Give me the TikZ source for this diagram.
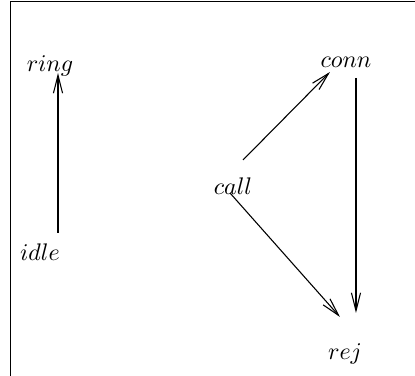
\documentclass[tikz,border=0pt]{standalone}
\usetikzlibrary{arrows.meta}
\begin{document}
\begin{tikzpicture}[x=0.4167pt,y=-0.4167pt,
  state/.style={inner sep=0pt,anchor=base},
  arr/.style={-{Straight Barb[length=7.5pt,width=3.8pt]},line width=0.45pt}]
\useasboundingbox (0,0) rectangle (415,376);
\draw[line width=0.5pt] (10.5,376) -- (10.5,1.5) -- (415,1.5);
\node[state] (ring) at (50,72) {$ring$};
\node[state] (idle) at (40,261) {$idle$};
\node[state] (conn) at (346,68) {$conn$};
\node[state] (call) at (233,195) {$call$};
\node[state] (rej)  at (345,360) {$rej$};
\draw[arr] ([shift={(18,-28)}]idle.base) -- ([shift={(8,1)}]ring.base);
\draw[arr] ([shift={(10,-35)}]call.base) -- ([shift={(-16,4)}]conn.base);
\draw[arr] ([shift={(-3,-2)}]call.base) -- ([shift={(-5,-43)}]rej.base);
\draw[arr] ([shift={(10,10)}]conn.base) -- ([shift={(11,-47)}]rej.base);
\end{tikzpicture}
\end{document}
